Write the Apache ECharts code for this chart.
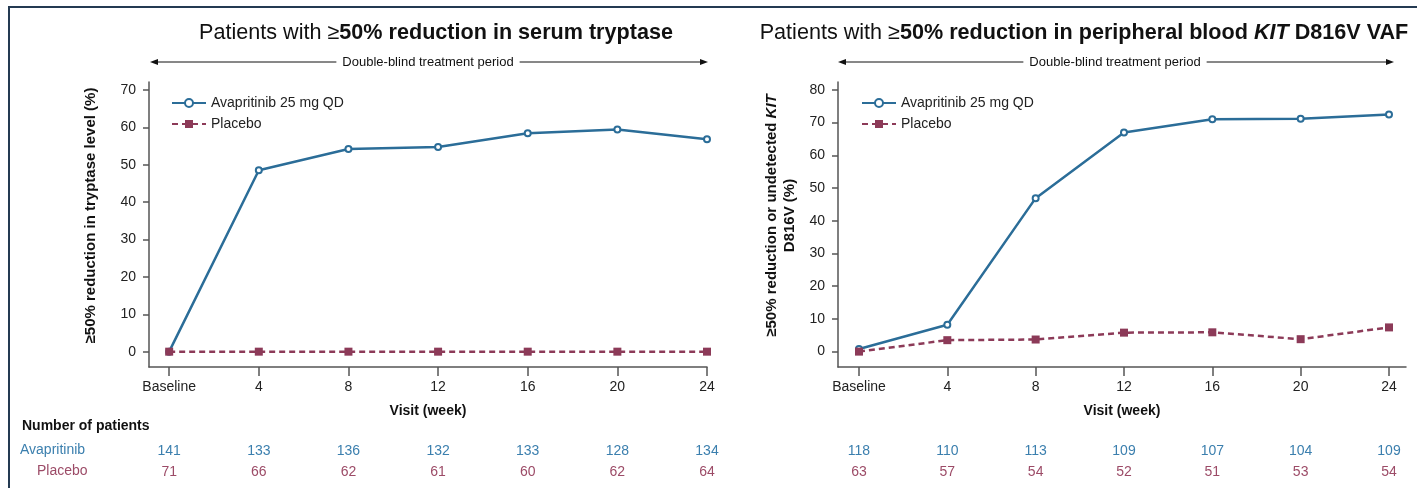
<!DOCTYPE html>
<html>
<head>
<meta charset="utf-8">
<script src="https://cdn.jsdelivr.net/npm/echarts@6/dist/echarts.min.js"></script>
<style>
  html, body { margin: 0; padding: 0; background: #fff; }
  #chart { width: 1417px; height: 488px; }
</style>
</head>
<body>
<div id="chart"></div>
<script>
// Visit weeks (0 = Baseline)
const weeks = [0, 4, 8, 12, 16, 20, 24];

// Left panel: % patients with >=50% reduction in serum tryptase
const tryptaseAvapritinib = [0, 48.5, 54.2, 54.7, 58.4, 59.4, 56.8];
const tryptasePlacebo = [0, 0, 0, 0, 0, 0, 0];
const tryptaseNAvapritinib = [141, 133, 136, 132, 133, 128, 134];
const tryptaseNPlacebo = [71, 66, 62, 61, 60, 62, 64];

// Right panel: % patients with >=50% reduction or undetected KIT D816V VAF
const kitAvapritinib = [0.8, 8.2, 46.9, 67.0, 71.0, 71.2, 72.5];
const kitPlacebo = [0, 3.5, 3.7, 5.8, 5.9, 3.8, 7.4];
const kitNAvapritinib = [118, 110, 113, 109, 107, 104, 109];
const kitNPlacebo = [63, 57, 54, 52, 51, 53, 54];

// Y tick labels
const tryptaseTicks = [0, 10, 20, 30, 40, 50, 60, 70];
const kitTicks = [0, 10, 20, 30, 40, 50, 60, 70, 80];

const FONT = '"Liberation Sans", Arial, Helvetica, sans-serif';
const BLUE = '#2b6d98';
const MAROON = '#8c3a58';
const BLUE_TXT = '#3b7fae';
const MAROON_TXT = '#9c4b67';
const AXIS = '#555';

const toPairs = (ys) => weeks.map((w, i) => [w, ys[i]]);

function xAxisMain(gridIndex, min, max) {
  return {
    type: 'value', gridIndex, min, max,
    axisLine: { show: true, onZero: false, lineStyle: { color: AXIS, width: 1.5 } },
    axisTick: { show: true, customValues: weeks, length: 9, lineStyle: { color: AXIS, width: 1.5 } },
    axisLabel: {
      customValues: weeks, margin: 13, color: '#222', fontSize: 14, fontFamily: FONT,
      formatter: (v) => (v === 0 ? 'Baseline' : String(v))
    },
    splitLine: { show: false },
    name: 'Visit (week)', nameLocation: 'middle', nameGap: 37,
    nameTextStyle: { fontWeight: 'bold', fontSize: 14, color: '#111', fontFamily: FONT }
  };
}

function xAxisCounts(gridIndex, min, max, nA, nP) {
  return {
    type: 'value', gridIndex, min, max, position: 'bottom', offset: 66,
    axisLine: { show: false }, axisTick: { show: false }, splitLine: { show: false },
    axisLabel: {
      customValues: weeks, margin: 8, fontFamily: FONT,
      formatter: (v) => {
        const i = weeks.indexOf(v);
        return '{a|' + nA[i] + '}\n{b|' + nP[i] + '}';
      },
      rich: {
        a: { color: BLUE_TXT, fontSize: 14, lineHeight: 21, fontFamily: FONT },
        b: { color: MAROON_TXT, fontSize: 14, lineHeight: 21, fontFamily: FONT }
      }
    }
  };
}

function yAxis(gridIndex, min, max, ticks, name, nameGap) {
  return {
    type: 'value', gridIndex, min, max,
    axisLine: { show: true, onZero: false, lineStyle: { color: AXIS, width: 1.5 } },
    axisTick: { show: true, customValues: ticks, length: 6, lineStyle: { color: AXIS, width: 1.5 } },
    axisLabel: { customValues: ticks, margin: 13, color: '#222', fontSize: 14, fontFamily: FONT },
    splitLine: { show: false },
    name, nameGap, nameLocation: 'middle', nameRotate: 90,
    nameTextStyle: {
      fontWeight: 'bold', fontSize: 15, color: '#111', fontFamily: FONT,
      padding: [0, 0, 0, 18],
      rich: {
        b: { fontWeight: 'bold', fontSize: 15, color: '#111', fontFamily: FONT, lineHeight: 18 },
        bi: { fontWeight: 'bold', fontStyle: 'italic', fontSize: 15, color: '#111', fontFamily: FONT, lineHeight: 18 }
      }
    }
  };
}

function activeSeries(name, data, xi, yi) {
  return {
    name, type: 'line', xAxisIndex: xi, yAxisIndex: yi, data,
    symbol: 'emptyCircle', symbolSize: 6, z: 2,
    lineStyle: { color: BLUE, width: 2.5 },
    itemStyle: { color: BLUE, borderColor: BLUE, borderWidth: 1.2 },
    emphasis: { disabled: true }, animation: false
  };
}
function placeboSeries(name, data, xi, yi) {
  return {
    name, type: 'line', xAxisIndex: xi, yAxisIndex: yi, data,
    symbol: 'rect', symbolSize: 8, z: 3,
    lineStyle: { color: MAROON, width: 2.5, type: [6, 4] },
    itemStyle: { color: MAROON },
    emphasis: { disabled: true }, animation: false
  };
}

function periodArrow(x1, x2, y, cx) {
  return [
    { type: 'line', shape: { x1: x1 + 4, y1: y, x2: x2 - 4, y2: y }, style: { stroke: '#111', lineWidth: 1 } },
    { type: 'polygon', shape: { points: [[x1, y], [x1 + 8, y - 3], [x1 + 8, y + 3]] }, style: { fill: '#111' } },
    { type: 'polygon', shape: { points: [[x2, y], [x2 - 8, y - 3], [x2 - 8, y + 3]] }, style: { fill: '#111' } },
    {
      type: 'text', x: cx, y: y,
      style: {
        text: 'Double-blind treatment period', fill: '#111', font: '13px ' + FONT,
        align: 'center', verticalAlign: 'middle', backgroundColor: '#fff', padding: [0, 6]
      }
    }
  ];
}

const chart = echarts.init(document.getElementById('chart'), null, { renderer: 'canvas' });

const titleRich = {
  n: { fontSize: 21.6, fontWeight: 'normal', color: '#111', fontFamily: FONT },
  b: { fontSize: 21.6, fontWeight: 'bold', color: '#111', fontFamily: FONT },
  bi: { fontSize: 21.6, fontWeight: 'bold', fontStyle: 'italic', color: '#111', fontFamily: FONT }
};

chart.setOption({
  backgroundColor: '#fff',
  animation: false,
  title: [
    {
      left: 431, top: 17, textAlign: 'center',
      text: '{n|Patients with ≥}{b|50% reduction in serum tryptase}',
      textStyle: { fontWeight: 'normal', rich: titleRich }
    },
    {
      left: 1079, top: 17, textAlign: 'center',
      text: '{n|Patients with ≥}{b|50% reduction in peripheral blood }{bi|KIT}{b| D816V VAF}',
      textStyle: { fontWeight: 'normal', rich: titleRich }
    }
  ],
  legend: [
    {
      left: 166, top: 91, orient: 'vertical', itemGap: 7, itemWidth: 34, itemHeight: 10,
      data: ['Avapritinib 25 mg QD', 'Placebo'],
      textStyle: { fontSize: 14, color: '#222', fontFamily: FONT }, selectedMode: false
    },
    {
      left: 856, top: 91, orient: 'vertical', itemGap: 7, itemWidth: 34, itemHeight: 10,
      data: ['Avapritinib 25 mg QD', 'Placebo'],
      textStyle: { fontSize: 14, color: '#222', fontFamily: FONT }, selectedMode: false
    }
  ],
  grid: [
    { left: 149, top: 82, width: 558, height: 285 },
    { left: 838, top: 82, width: 568, height: 285 }
  ],
  xAxis: [
    xAxisMain(0, -0.9, 24),
    xAxisMain(1, -0.95, 24.77),
    xAxisCounts(0, -0.9, 24, tryptaseNAvapritinib, tryptaseNPlacebo),
    xAxisCounts(1, -0.95, 24.77, kitNAvapritinib, kitNPlacebo)
  ],
  yAxis: [
    yAxis(0, -4.1, 72.1, tryptaseTicks, '{b|≥50% reduction in tryptase level (%)}', 49),
    yAxis(1, -4.7, 82.4, kitTicks, '{b|≥50% reduction or undetected }{bi|KIT}\n{b|D816V (%)}', 39)
  ],
  series: [
    activeSeries('Avapritinib 25 mg QD', toPairs(tryptaseAvapritinib), 0, 0),
    placeboSeries('Placebo', toPairs(tryptasePlacebo), 0, 0),
    activeSeries('Avapritinib 25 mg QD', toPairs(kitAvapritinib), 1, 1),
    placeboSeries('Placebo', toPairs(kitPlacebo), 1, 1)
  ],
  graphic: [
    // outer frame
    { type: 'rect', shape: { x: 9, y: 7, width: 1420, height: 490 }, style: { fill: null, stroke: '#243a52', lineWidth: 2 }, silent: true },
    ...periodArrow(150, 708, 62, 428),
    ...periodArrow(838, 1394, 62, 1115),
    { type: 'text', x: 22, y: 426, style: { text: 'Number of patients', font: 'bold 14px ' + FONT, fill: '#111', verticalAlign: 'middle' } },
    { type: 'text', x: 20, y: 450, style: { text: 'Avapritinib', font: '14px ' + FONT, fill: BLUE_TXT, verticalAlign: 'middle' } },
    { type: 'text', x: 37, y: 471, style: { text: 'Placebo', font: '14px ' + FONT, fill: MAROON_TXT, verticalAlign: 'middle' } }
  ]
});
</script>
</body>
</html>
